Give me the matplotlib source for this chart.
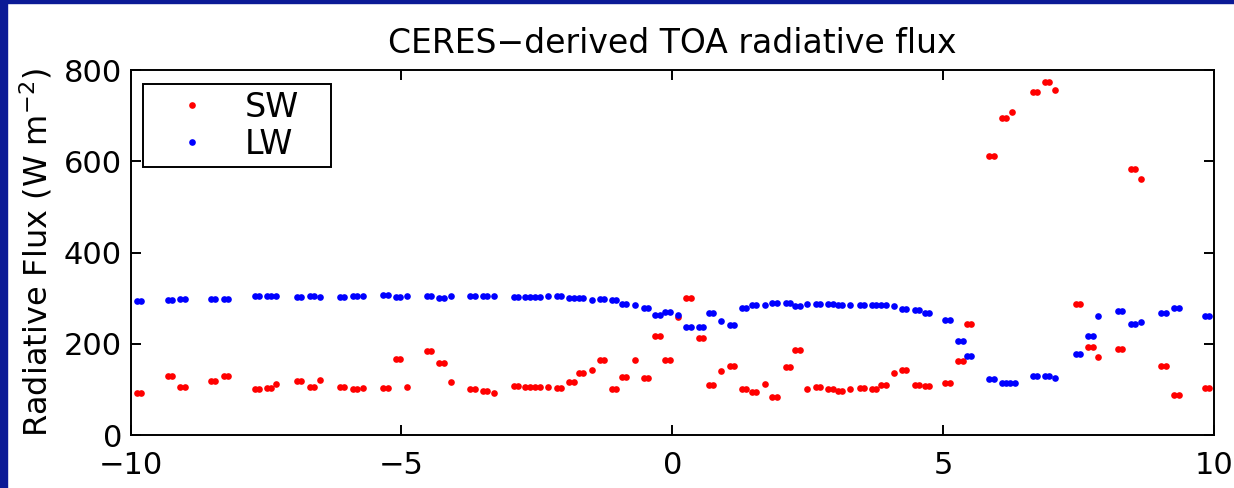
import numpy as np
import matplotlib.pyplot as plt
from matplotlib.patches import Rectangle

# CERES TOA flux samples (x = position, y = W m^-2)
sw_x = [-9.88, -9.80, -9.31, -9.23, -9.08, -9.00, -8.52, -8.44, -8.28, -8.20, -7.71, -7.63, -7.48, -7.40, -7.32, -6.93, -6.85, -6.69, -6.61, -6.51, -6.14, -6.06,
        -5.90, -5.82, -5.70, -5.33, -5.25, -5.10, -5.02, -4.90, -4.53, -4.45, -4.30, -4.22, -4.09, -3.73, -3.65, -3.50, -3.42, -3.29, -2.93, -2.85, -2.71, -2.63, -2.53, -2.45, -2.30, -2.13, -2.05,
        -1.90, -1.82, -1.73, -1.65, -1.49, -1.34, -1.26, -1.11, -1.03, -0.93, -0.85, -0.69, -0.53, -0.45, -0.31, -0.23, -0.13, -0.05, 0.11, 0.26, 0.34, 0.49, 0.57, 0.67, 0.75, 0.90, 1.06, 1.14, 1.28, 1.36, 1.47, 1.55, 1.71, 1.85, 1.93,
        2.10, 2.18, 2.27, 2.35, 2.49, 2.65, 2.73, 2.88, 2.96, 3.06, 3.14, 3.29, 3.46, 3.54, 3.68, 3.76, 3.86, 3.94, 4.09, 4.24, 4.32, 4.48, 4.56, 4.66, 4.74, 5.04, 5.12, 5.28, 5.36, 5.44, 5.52,
        5.85, 5.93, 6.08, 6.16, 6.28, 6.65, 6.73, 6.88, 6.96, 7.07, 7.45, 7.53, 7.68, 7.76, 7.86, 8.23, 8.31, 8.47, 8.55, 8.65, 9.03, 9.11, 9.27, 9.35, 9.83, 9.91]
sw_y = [93, 93, 130, 130, 106, 106, 120, 120, 130, 130, 101, 101, 104, 104, 113, 120, 120, 106, 106, 122, 106, 106,
        101, 101, 104, 103, 103, 168, 168, 106, 185, 185, 159, 159, 117, 101, 101, 96, 96, 92, 109, 109, 105, 105, 106, 106, 106, 104, 104,
        117, 117, 136, 136, 143, 164, 164, 102, 102, 127, 127, 166, 125, 125, 217, 217, 164, 164, 258, 301, 301, 214, 214, 111, 111, 141, 151, 151, 101, 101, 95, 95, 112, 83, 83,
        150, 150, 187, 187, 101, 106, 106, 102, 102, 98, 98, 102, 104, 104, 102, 102, 111, 111, 137, 143, 143, 111, 111, 108, 108, 115, 115, 163, 163, 244, 244,
        612, 612, 694, 694, 707, 752, 752, 773, 773, 756, 287, 287, 194, 194, 171, 190, 190, 583, 583, 561, 151, 151, 88, 88, 104, 104]

lw_x = [-9.88, -9.80, -9.31, -9.23, -9.08, -9.00, -8.52, -8.44, -8.28, -8.20, -7.71, -7.63, -7.48, -7.40, -7.32, -6.93, -6.85, -6.69, -6.61, -6.51, -6.14, -6.06,
        -5.90, -5.82, -5.70, -5.33, -5.25, -5.10, -5.02, -4.90, -4.53, -4.45, -4.30, -4.22, -4.09, -3.73, -3.65, -3.50, -3.42, -3.29, -2.93, -2.85, -2.71, -2.63, -2.53, -2.45, -2.30, -2.13, -2.05,
        -1.90, -1.82, -1.73, -1.65, -1.49, -1.34, -1.26, -1.11, -1.03, -0.93, -0.85, -0.69, -0.53, -0.45, -0.31, -0.23, -0.13, -0.05, 0.11, 0.26, 0.34, 0.49, 0.57, 0.67, 0.75, 0.90, 1.06, 1.14, 1.28, 1.36, 1.47, 1.55, 1.71, 1.85, 1.93,
        2.10, 2.18, 2.27, 2.35, 2.49, 2.65, 2.73, 2.88, 2.96, 3.06, 3.14, 3.29, 3.46, 3.54, 3.68, 3.76, 3.86, 3.94, 4.09, 4.24, 4.32, 4.48, 4.56, 4.66, 4.74, 5.04, 5.12, 5.28, 5.36, 5.44, 5.52,
        5.85, 5.93, 6.08, 6.16, 6.24, 6.32, 6.65, 6.73, 6.88, 6.96, 7.07, 7.45, 7.53, 7.68, 7.76, 7.86, 8.23, 8.31, 8.47, 8.55, 8.65, 9.03, 9.11, 9.27, 9.35, 9.83, 9.91]
lw_y = [294, 294, 296, 296, 298, 298, 299, 299, 299, 299, 304, 304, 305, 305, 305, 302, 302, 305, 305, 303, 303, 303,
        306, 306, 306, 307, 307, 303, 303, 305, 305, 305, 301, 301, 305, 306, 306, 305, 305, 306, 302, 302, 303, 303, 303, 303, 304, 304, 304,
        301, 301, 301, 301, 296, 299, 299, 296, 296, 288, 288, 285, 279, 279, 263, 263, 271, 271, 263, 238, 238, 238, 238, 268, 268, 251, 242, 242, 279, 279, 286, 286, 285, 289, 289,
        290, 290, 283, 283, 287, 288, 288, 288, 288, 286, 286, 286, 286, 286, 286, 286, 285, 285, 283, 277, 277, 275, 275, 268, 268, 252, 252, 207, 207, 174, 174,
        123, 123, 115, 115, 115, 115, 130, 130, 130, 130, 125, 178, 178, 218, 218, 261, 272, 272, 244, 244, 249, 267, 267, 278, 278, 261, 261]

x_ticks = [-10, -5, 0, 5, 10]
y_ticks = [0, 200, 400, 600, 800]

plt.rcParams['font.family'] = 'DejaVu Sans'

W, H = 1234, 488
fig = plt.figure(figsize=(W / 100, H / 100), dpi=100, facecolor='white')
# navy frame strips on left and top edges
navy = '#0b1a96'
fig.patches.append(Rectangle((0, 0), 7 / W, 1, transform=fig.transFigure, color=navy, zorder=0))
fig.patches.append(Rectangle((0, 1 - 3 / H), 1, 3 / H, transform=fig.transFigure, color=navy, zorder=0))

ax = fig.add_axes([130.5 / W, 1 - 435.3 / H, 1083.5 / W, 365.3 / H])
ax.plot(sw_x, sw_y, 'o', color='#ff0000', ms=4.8, mew=0, ls='none', label='SW')
ax.plot(lw_x, lw_y, 'o', color='#0000ff', ms=4.8, mew=0, ls='none', label='LW')

ax.set_xlim(-10, 10)
ax.set_ylim(0, 800)
ax.set_xticks(x_ticks)
ax.set_yticks(y_ticks)
ax.tick_params(direction='in', length=7.5, width=1.4, top=True, right=True,
               labelsize=22, colors='black')
ax.tick_params(axis='y', pad=6)
ax.tick_params(axis='x', pad=11)
for s in ax.spines.values():
    s.set_linewidth(1.4)

ax.set_title('CERES\u2212derived TOA radiative flux', fontsize=23.8, pad=12)
ax.set_ylabel('Radiative Flux (W m$^{-2}$)', fontsize=23)
ax.yaxis.set_label_coords(-0.07, 0.5)

leg_h = 92 / 365.3
ax.legend(loc='upper left', bbox_to_anchor=(12.5 / 1083.5, 1 - 14 / 365.3 - leg_h, 188 / 1083.5, leg_h),
          mode='expand', borderaxespad=0, fontsize=24, handlelength=2.55, handletextpad=0.3,
          labelspacing=0.12, borderpad=0.2, fancybox=False, framealpha=1, edgecolor='black',
          markerscale=1, numpoints=1)
ax.get_legend().get_frame().set_linewidth(1.4)

fig.savefig('out.png', dpi=100, facecolor='white')
